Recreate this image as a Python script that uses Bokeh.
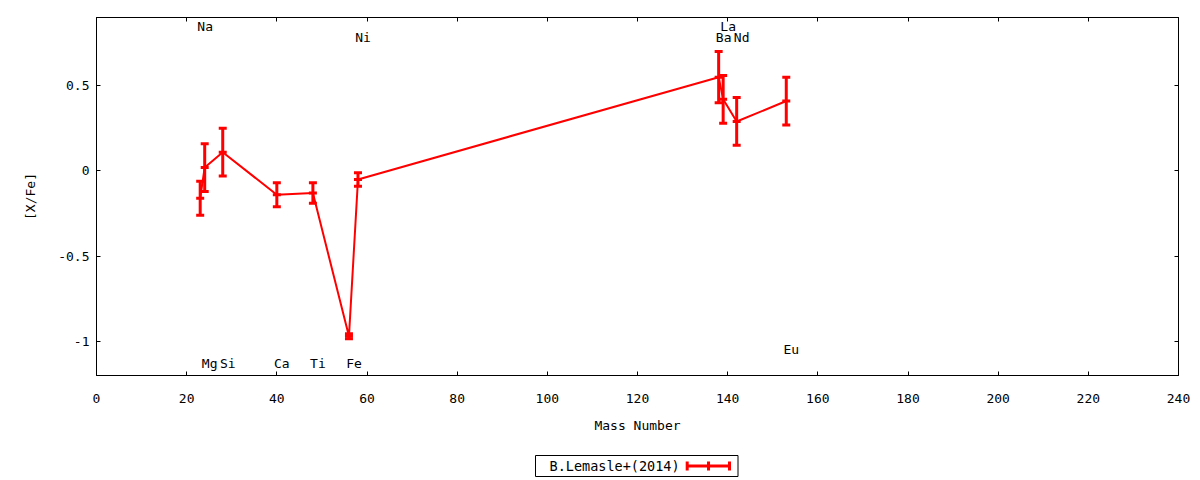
from bokeh.plotting import figure
from bokeh.models import (Range1d, LinearAxis, SingleIntervalTicker,
                          NumeralTickFormatter, CustomJSTickFormatter, ColumnDataSource)
from bokeh.layouts import column
from bokeh.core.properties import value
from bokeh.embed import file_html
from bokeh.resources import INLINE

# ---------------- data ----------------
elements = ["Na", "Mg", "Si", "Ca", "Ti", "Fe", "Ni", "Ba", "La", "Nd", "Eu"]
mass = [23, 24, 28, 40, 48, 56, 58, 138, 139, 142, 153]
x_fe = [-0.16, 0.02, 0.11, -0.14, -0.13, -0.97, -0.05, 0.55, 0.42, 0.29, 0.41]
x_fe_err = [0.10, 0.14, 0.14, 0.07, 0.06, 0.015, 0.04, 0.15, 0.14, 0.14, 0.14]
label_y = [0.845, -1.13, -1.13, -1.13, -1.13, -1.13, 0.785, 0.785, 0.845, 0.785, -1.05]
series_label = "B.Lemasle+(2014)"
x_label = "Mass Number"
y_label = "[X/Fe]"

FONT = "DejaVu Sans Mono"
FS = "13px"
RED = "#ff0000"

src = ColumnDataSource(dict(
    mass=mass, y=x_fe,
    lo=[v - e for v, e in zip(x_fe, x_fe_err)],
    hi=[v + e for v, e in zip(x_fe, x_fe_err)],
    label_y=label_y, el=elements,
))

p = figure(width=1200, height=440,
           x_range=Range1d(0, 240), y_range=Range1d(-1.2, 0.9),
           output_backend="svg", toolbar_location=None,
           min_border_left=96, min_border_right=22,
           min_border_top=17, min_border_bottom=65)
p.grid.visible = False
p.outline_line_color = "black"
p.outline_line_width = 1
p.background_fill_color = "white"
p.border_fill_color = "white"


def style(ax):
    ax.axis_line_color = "black"
    ax.major_tick_line_color = "black"
    ax.major_tick_in = 4
    ax.major_tick_out = 0
    ax.minor_tick_line_color = None
    ax.major_label_text_font = FONT
    ax.major_label_text_font_size = FS
    ax.major_label_text_color = "black"
    ax.axis_label_text_font = FONT
    ax.axis_label_text_font_size = FS
    ax.axis_label_text_font_style = "normal"
    ax.axis_label_text_color = "black"


xa = p.xaxis[0]
xa.ticker = SingleIntervalTicker(interval=20, num_minor_ticks=0)
style(xa)
xa.axis_label = x_label
xa.major_label_standoff = 18
xa.axis_label_standoff = 12

ya = p.yaxis[0]
ya.ticker = SingleIntervalTicker(interval=0.5, num_minor_ticks=0)
ya.formatter = NumeralTickFormatter(format="0.[0]")
style(ya)
ya.axis_label = y_label
ya.major_label_standoff = 7
ya.axis_label_standoff = 17

for loc, interval in (("above", 20), ("right", 0.5)):
    ax = LinearAxis(ticker=SingleIntervalTicker(interval=interval, num_minor_ticks=0),
                    formatter=CustomJSTickFormatter(code="return ''"))
    style(ax)
    ax.major_label_text_font_size = "0px"
    ax.major_label_standoff = 0
    p.add_layout(ax, loc)

# connecting line
p.line(x="mass", y="y", source=src, line_color=RED, line_width=2)
# error bars
p.segment(x0="mass", y0="lo", x1="mass", y1="hi", source=src,
          line_color=RED, line_width=3)
for col in ("lo", "hi", "y"):
    p.scatter(x="mass", y=col, source=src, marker="dash", size=8,
              line_color=RED, line_width=3)

# element labels
p.text(x="mass", y="label_y", text="el", source=src,
       text_font=value(FONT), text_font_size=value(FS), text_color="black",
       text_align="center", text_baseline="middle", x_offset=5)

# ---------------- legend strip ----------------
# column() aligns this strip's frame with the main frame (x 96..1178 on the page),
# so its x range is chosen to equal page pixels.
leg = figure(width=1200, height=40, x_range=Range1d(96, 1178), y_range=Range1d(0, 40),
             x_axis_type=None, y_axis_type=None,
             output_backend="svg", toolbar_location=None, min_border=0)
leg.grid.visible = False
leg.outline_line_color = None
leg.background_fill_color = "white"
leg.border_fill_color = "white"
leg.quad(left=[535], right=[737.5], bottom=[4], top=[25],
         fill_color=None, line_color="black", line_width=1)
leg.text(x=[549], y=[14.5], text=[series_label],
         text_font=value(FONT), text_font_size=value("13.5px"), text_color="black",
         text_align="left", text_baseline="middle")
leg.segment(x0=[686.7], y0=[14.5], x1=[729], y1=[14.5], line_color=RED, line_width=3)
leg.segment(x0=[686.7, 708, 729], y0=[10] * 3, x1=[686.7, 708, 729], y1=[19] * 3,
            line_color=RED, line_width=3)

layout = column(p, leg, spacing=0)
open("out.html", "w").write(file_html(layout, INLINE))
